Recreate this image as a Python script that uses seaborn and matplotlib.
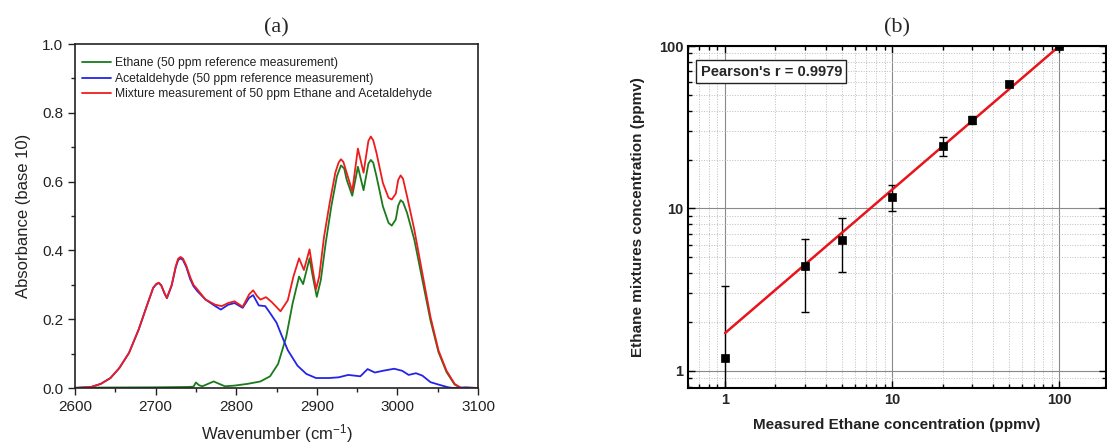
import numpy as np
import pandas as pd
import matplotlib
matplotlib.use("Agg")
import matplotlib.pyplot as plt
import seaborn as sns
from matplotlib.ticker import LogLocator, NullFormatter, FixedLocator, FixedFormatter

# ---- panel (a): absorbance spectra ----
mix_wn = [2600, 2620, 2632, 2644, 2655, 2667, 2679, 2689, 2697, 2701,
          2704, 2707, 2711, 2714, 2720, 2725, 2728, 2731, 2734, 2738,
          2743, 2747, 2752, 2762, 2774, 2782, 2790, 2798, 2808, 2816,
          2821, 2826, 2830, 2837, 2844, 2855, 2864, 2871, 2878, 2884,
          2891, 2895, 2899, 2903, 2909, 2916, 2923, 2927, 2930, 2933,
          2937, 2944, 2951, 2958, 2964, 2967, 2970, 2974, 2982, 2989,
          2993, 2998, 3001, 3004, 3007, 3012, 3021, 3031, 3041, 3051,
          3061, 3071, 3079, 3100]
mix_abs = [0.0, 0.003, 0.012, 0.029, 0.058, 0.102, 0.17, 0.238, 0.291, 0.303,
           0.306, 0.299, 0.276, 0.262, 0.30, 0.354, 0.376, 0.381, 0.376, 0.356,
           0.322, 0.30, 0.286, 0.257, 0.242, 0.238, 0.247, 0.252, 0.236, 0.272,
           0.284, 0.267, 0.257, 0.264, 0.25, 0.223, 0.255, 0.324, 0.377, 0.343,
           0.403, 0.343, 0.287, 0.324, 0.44, 0.538, 0.626, 0.655, 0.665, 0.657,
           0.626, 0.572, 0.696, 0.626, 0.718, 0.731, 0.72, 0.684, 0.596, 0.553,
           0.548, 0.565, 0.605, 0.618, 0.608, 0.557, 0.46, 0.333, 0.207, 0.109,
           0.05, 0.012, 0.0, 0.0]

acet_wn = [2600, 2620, 2632, 2644, 2655, 2667, 2679, 2689, 2697, 2701,
           2704, 2707, 2711, 2714, 2720, 2725, 2728, 2731, 2734, 2738,
           2743, 2747, 2752, 2762, 2774, 2781, 2790, 2798, 2808, 2816,
           2821, 2828, 2836, 2842, 2850, 2856, 2864, 2876, 2887, 2899,
           2915, 2927, 2939, 2954, 2963, 2972, 2982, 2996, 3006, 3014,
           3023, 3031, 3041, 3051, 3063, 3069, 3085, 3100]
acet_abs = [0.0, 0.003, 0.012, 0.029, 0.058, 0.102, 0.17, 0.238, 0.291, 0.302,
            0.305, 0.298, 0.275, 0.261, 0.298, 0.351, 0.372, 0.377, 0.372, 0.352,
            0.316, 0.296, 0.281, 0.257, 0.238, 0.228, 0.242, 0.247, 0.233, 0.262,
            0.27, 0.24, 0.238, 0.218, 0.19, 0.155, 0.11, 0.065, 0.041, 0.029,
            0.029, 0.031, 0.038, 0.034, 0.055, 0.045, 0.05, 0.056, 0.05, 0.038,
            0.043, 0.036, 0.017, 0.01, 0.002, 0.0, 0.002, 0.0]

eth_wn = [2600, 2700, 2740, 2747, 2750, 2754, 2758, 2766, 2772, 2778,
          2786, 2798, 2814, 2830, 2842, 2852, 2862, 2870, 2878, 2883,
          2891, 2895, 2900, 2905, 2911, 2918, 2925, 2930, 2934, 2937,
          2944, 2951, 2958, 2964, 2967, 2970, 2974, 2982, 2989, 2993,
          2998, 3001, 3004, 3007, 3012, 3021, 3031, 3041, 3051, 3061,
          3071, 3079, 3100]
eth_abs = [0.001, 0.002, 0.003, 0.004, 0.016, 0.008, 0.005, 0.013, 0.019, 0.013,
           0.005, 0.007, 0.012, 0.019, 0.034, 0.07, 0.148, 0.246, 0.324, 0.302,
           0.377, 0.324, 0.265, 0.314, 0.421, 0.528, 0.616, 0.647, 0.638, 0.606,
           0.559, 0.643, 0.575, 0.652, 0.663, 0.655, 0.616, 0.528, 0.48, 0.472,
           0.49, 0.53, 0.546, 0.54, 0.509, 0.431, 0.314, 0.197, 0.104, 0.046,
           0.01, 0.0, 0.0]

# ---- panel (b): calibration points ----
measured = [1, 3, 5, 10, 20, 30, 50, 100]
mixture = [1.2, 4.4, 6.4, 11.8, 24.2, 35.0, 58.5, 100]
mix_err = [2.15, 2.1, 2.35, 2.2, 3.3, 2.0, 2.0, 1.0]
fit_x = [1, 100]
fit_y = [1.71, 100]

sns.set_theme(style="white")
plt.rcParams['font.family'] = ['Liberation Sans', 'DejaVu Sans']
plt.rcParams['mathtext.fontset'] = 'custom'
plt.rcParams['mathtext.rm'] = 'Liberation Sans'
plt.rcParams['mathtext.it'] = 'Liberation Sans:italic'

W, H = 1107, 444
fig = plt.figure(figsize=(W / 100, H / 100), dpi=100)
ax1 = fig.add_axes([75 / W, 56 / H, 403 / W, 344 / H])
ax2 = fig.add_axes([688 / W, 56 / H, 418 / W, 342 / H])

# ---------- (a) ----------
sns.lineplot(x=eth_wn, y=eth_abs, ax=ax1, color='#1b7a1b', lw=1.3,
             label='Ethane (50 ppm reference measurement)')
sns.lineplot(x=acet_wn, y=acet_abs, ax=ax1, color='#2424e8', lw=1.3,
             label='Acetaldehyde (50 ppm reference measurement)')
sns.lineplot(x=mix_wn, y=mix_abs, ax=ax1, color='#ee1c1c', lw=1.3,
             label='Mixture measurement of 50 ppm Ethane and Acetaldehyde')

ax1.set_xlim(2600, 3100)
ax1.set_ylim(0, 1.0)
ax1.set_xticks(np.arange(2600, 3101, 100))
ax1.set_xticks(np.arange(2650, 3100, 100), minor=True)
ax1.set_yticks(np.arange(0, 1.01, 0.2))
ax1.set_yticks(np.arange(0.1, 1.0, 0.2), minor=True)
ax1.yaxis.set_major_formatter(FixedFormatter(['0.0', '0.2', '0.4', '0.6', '0.8', '1.0']))
ax1.tick_params(which='both', direction='out', color='#222222', width=1.0,
                bottom=True, left=True, top=False, right=False)
ax1.tick_params(which='major', length=5, labelsize=11, labelcolor='#222222')
ax1.tick_params(which='minor', length=3)
for s in ax1.spines.values():
    s.set_color('#222222')
    s.set_linewidth(1.2)
ax1.set_xlabel('Wavenumber (cm$^{-1}$)', fontsize=12, color='#222222', labelpad=6)
ax1.set_ylabel('Absorbance (base 10)', fontsize=12, color='#222222', labelpad=8)
ax1.set_title('(a)', family='Liberation Serif', fontsize=16, pad=8)
leg = ax1.legend(loc='upper left', bbox_to_anchor=(0.0, 0.982), frameon=False,
                 fontsize=8.7, handlelength=2.4, handletextpad=0.3,
                 labelspacing=0.28, borderaxespad=0.3, borderpad=0.3)
for t in leg.get_texts():
    t.set_color('#222222')

# ---------- (b) ----------
ax2.set_xscale('log')
ax2.set_yscale('log')
ax2.set_xlim(0.6, 190)
ax2.set_ylim(0.785, 100)
ax2.grid(which='major', color='#8a8a8a', lw=0.8, ls='-')
ax2.grid(which='minor', color='#bdbdbd', lw=0.7, ls=':')
ax2.set_axisbelow(True)

ax2.errorbar(measured, mixture, yerr=mix_err, fmt='none', ecolor='black',
             elinewidth=1.0, capsize=3, capthick=1.0, zorder=3)
sns.lineplot(x=fit_x, y=fit_y, ax=ax2, color='#e8141c', lw=1.8, zorder=4)
sns.scatterplot(x=measured, y=mixture, ax=ax2, marker='s', s=38,
                color='black', edgecolor='black', zorder=5, clip_on=True)

ax2.xaxis.set_major_locator(FixedLocator([1, 10, 100]))
ax2.xaxis.set_major_formatter(FixedFormatter(['1', '10', '100']))
ax2.yaxis.set_major_locator(FixedLocator([1, 10, 100]))
ax2.yaxis.set_major_formatter(FixedFormatter(['1', '10', '100']))
ax2.xaxis.set_minor_locator(LogLocator(base=10, subs=np.arange(2, 10), numticks=20))
ax2.yaxis.set_minor_locator(LogLocator(base=10, subs=np.arange(2, 10), numticks=20))
ax2.xaxis.set_minor_formatter(NullFormatter())
ax2.yaxis.set_minor_formatter(NullFormatter())
ax2.tick_params(which='both', direction='in', color='black', width=1.0,
                bottom=True, left=True, top=True, right=True)
ax2.tick_params(which='major', length=5, labelsize=10.5)
ax2.tick_params(which='minor', length=3)
for lab in ax2.get_xticklabels() + ax2.get_yticklabels():
    lab.set_fontweight('bold')
for s in ax2.spines.values():
    s.set_color('black')
    s.set_linewidth(1.5)
ax2.set_xlabel('Measured Ethane concentration (ppmv)', fontsize=11,
               fontweight='bold', color='#222222', labelpad=8)
ax2.set_ylabel('Ethane mixtures concentration (ppmv)', fontsize=11,
               fontweight='bold', color='#222222', labelpad=10)
ax2.set_title('(b)', family='Liberation Serif', fontsize=16, pad=10)
ax2.text(0.03, 0.945, "Pearson's r = 0.9979", transform=ax2.transAxes,
         fontsize=10.5, fontweight='bold', va='top', ha='left', zorder=6,
         bbox=dict(boxstyle='square,pad=0.3', facecolor='white',
                   edgecolor='#222222', lw=1.0))

fig.savefig('out.png', dpi=100)
